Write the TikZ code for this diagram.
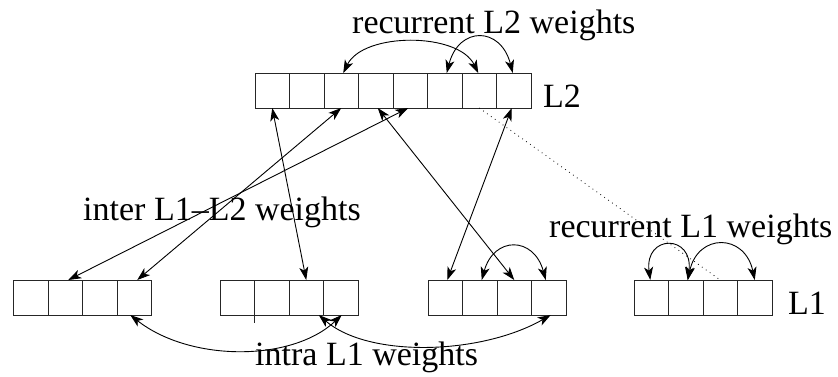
\documentclass[tikz,border=0pt]{standalone}
\usepackage{fontspec}
\setmainfont{Liberation Serif}
\usetikzlibrary{arrows.meta}
\begin{document}
\begin{tikzpicture}[x=1pt,y=-1pt,
  cell/.style={draw=black!85, line width=1pt, minimum width=34.5pt, minimum height=35pt, inner sep=0pt, outer sep=0pt},
  conn/.style={line width=0.9pt, {Stealth[length=13pt,width=9pt,inset=3.5pt]}-{Stealth[length=13pt,width=9pt,inset=3.5pt]}},
  dotconn/.style={line width=0.8pt, dash pattern=on 0.8pt off 4pt},
  lbl/.style={anchor=base west, inner sep=0pt, font=\fontsize{34}{40}\selectfont}]
\useasboundingbox (0,0) rectangle (838,376);
% L2 row
\foreach \i in {1,...,8} \node[cell] (t\i) at ({255+34.5*(\i-0.5)},90.5) {};
% L1 groups
\foreach \g/\x in {a/13.5,b/220,c/428,d/634}
  \foreach \i in {1,...,4} \node[cell] (\g\i) at ({\x+34.5*(\i-0.5)},297.5) {};
\draw[line width=0.9pt, black!85] (b1.south east) -- ++(0,8);
% inter L1-L2 connectors
\draw[conn] (t1.south) -- (b3.north);
\draw[conn] (t3.south) -- ([xshift=3pt]a4.north);
\draw[conn] ([xshift=-2pt]t5.south) -- ([xshift=3pt]a2.north);
\draw[conn] ([xshift=2pt]t4.south) -- (c3.north);
\draw[conn] ([xshift=-2pt]t8.south) -- ([xshift=2pt]c1.north);
\draw[dotconn] (t7.south) -- (d3.north);
% recurrent L2
\draw[conn] ([xshift=2pt]t3.north) .. controls +(20,-41) and +(-20,-41) .. ([xshift=-1pt]t7.north);
\draw[conn] ([xshift=2pt]t6.north) .. controls +(12,-47) and +(-12,-47) .. ([xshift=-1pt]t8.north);
% recurrent L1
\draw[conn] ([xshift=2pt]c2.north) .. controls +(12,-44) and +(-12,-44) .. ([xshift=-3pt]c4.north);
\draw[conn] ([xshift=2pt]d2.north) .. controls +(6,-46) and +(-6,-46) .. ([xshift=-1pt]d1.north);
\draw[conn] ([xshift=2pt]d2.north) .. controls +(10,-47) and +(-10,-47) .. (d4.north);
% intra L1
\draw[conn] ([xshift=-4pt]a4.south) .. controls +(60,47) and +(-50,47) .. ([xshift=1pt]b4.south);
\draw[conn] ([xshift=-22pt]b4.south) .. controls +(50,43) and +(-70,40) .. ([xshift=2pt]c4.south);
% labels
\node[lbl] (lr2) at (352,33) {recurrent L2 weights};
\node[lbl] (l2) at (543,107) {L2};
\node[lbl] (linter) at (83,220) {inter L1–L2 weights};
\node[lbl] (lr1) at (549,237) {recurrent L1 weights};
\node[lbl] (l1) at (788,314) {L1};
\node[lbl] (lintra) at (255,365) {intra L1 weights};
\end{tikzpicture}
\end{document}
